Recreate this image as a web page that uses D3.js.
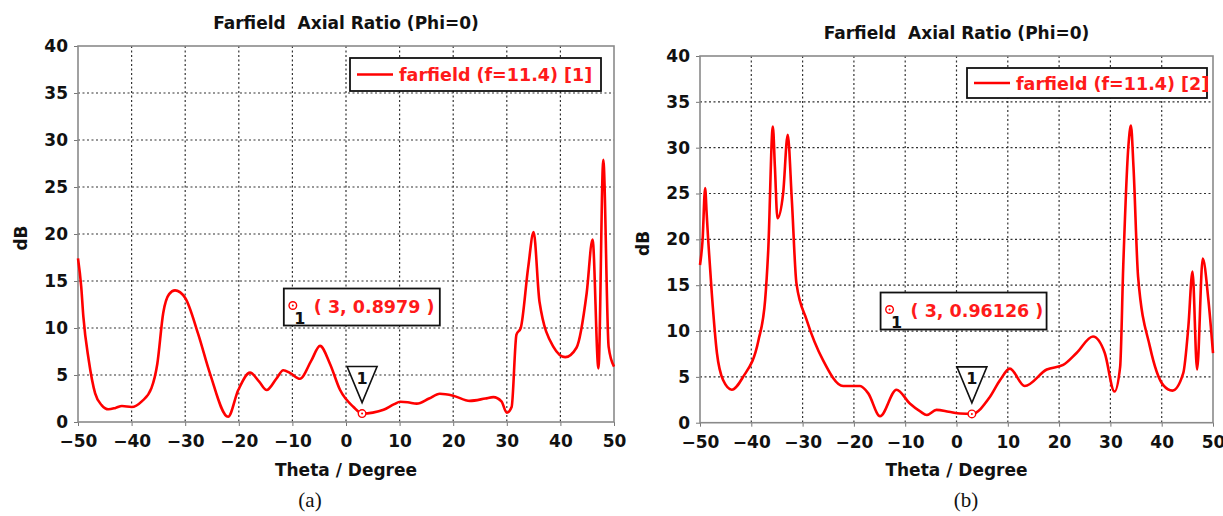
<!DOCTYPE html>
<html>
<head>
<meta charset="utf-8">
<script src="https://cdn.jsdelivr.net/npm/d3@7"></script>
<style>
  html, body { margin: 0; padding: 0; background: #fff; }
</style>
</head>
<body>
<svg id="chart" width="1223" height="516"></svg>
<script>
// sumbu bersama
const X_TICKS = [-50, -40, -30, -20, -10, 0, 10, 20, 30, 40, 50];
const Y_TICKS = [0, 5, 10, 15, 20, 25, 30, 35, 40];

// panel (a)
const thetaA = [-50, -49.4, -49, -48, -46.8, -45.6, -44.3, -43, -41.8, -40, -38.1, -36.3, -35.2, -34.1, -33,
  -31.9, -30, -27.6, -25.4, -22, -20.1, -17.9, -16.2, -14.8, -13, -11.7, -10.4, -8.6, -6.5, -4.85,
  -3, -1.1, 1.4, 3, 5, 7, 9, 10.1, 11.5, 13.2, 15.5, 17.5, 20, 23.1, 26, 27.5, 29, 30, 30.9,
  31.8, 32.6, 34, 35, 36.1, 38.7, 40.9, 43, 44.9, 46, 47.1, 48, 49, 50];
const arA = [17.4, 14.4, 11.2, 6.6, 3.05, 1.8, 1.35, 1.5, 1.7, 1.6, 2.2, 3.6, 6.2, 11.6, 13.6,
  14.0, 13.2, 9.4, 5.2, 0.56, 3.4, 5.25, 4.3, 3.4, 4.6, 5.5, 5.2, 4.6, 6.5, 8.1,
  6.2, 3.4, 1.6, 0.9, 1.0, 1.3, 1.9, 2.15, 2.1, 1.95, 2.5, 3.0, 2.8, 2.25, 2.5, 2.65, 2.2, 1.0, 1.6,
  9.3, 10.0, 16.5, 20.2, 12.8, 8.0, 6.9, 7.9, 13.7, 19.4, 5.7, 27.9, 8.0, 5.9];

// panel (b)
const thetaB = [-50, -49.5, -49, -48.7, -48.4, -47.7, -46.7, -45.5, -43.8, -41.6, -38.6, -37.3, -36.7,
  -35.8, -35.4, -34.9, -33.8, -32.9, -32.1, -31.2, -29.2, -26, -22.1, -18.8, -17.2, -14.9, -11.7,
  -9.1, -7, -5.8, -3.9, -1.5, 0.7, 3, 6.5, 8.5, 10.4, 13.3, 17.6, 20.8, 23.4, 26.6, 28.9, 30.8,
  31.9, 32.5, 33.5, 34, 34.5, 35.4, 37.7, 40.3, 42.1, 44.2, 45.2, 46, 46.9, 48, 49.1, 50];
const arB = [17.2, 19.9, 25.6, 22.8, 19.9, 14.1, 7.6, 4.65, 3.6, 5.0, 9.0, 13.4, 18.8,
  32.3, 27.9, 22.3, 25.0, 31.4, 24.3, 15.2, 11.2, 6.8, 4.0, 4.0, 3.2, 0.7, 3.6,
  2.1, 1.2, 0.84, 1.4, 1.2, 1.0, 0.96, 2.8, 4.65, 5.9, 4.0, 5.8, 6.3, 7.6, 9.4, 7.6, 3.4,
  6.1, 17.0, 30.1, 32.4, 27.9, 15.9, 8.3, 4.1, 3.5, 5.4, 10.5, 16.5, 5.8, 17.9, 13.4, 7.6];

const FONT = "'DejaVu Sans', Verdana, sans-serif";
const svg = d3.select("#chart");

drawPanel({
  left: 78, right: 614, top: 46, bottom: 422,
  titleY: 29, theta: thetaA, values: arA,
  legend: "farfield (f=11.4) [1]", legendBox: [350, 58, 251, 33],
  markerTheta: 3, markerValue: 0.8979, markerText: "( 3, 0.8979 )",
  annoTheta: -11.6, annoDb: 14.2, annoW: 156, caption: "(a)", captionX: 310
});

drawPanel({
  left: 700, right: 1213, top: 56, bottom: 422.7,
  titleY: 39, theta: thetaB, values: arB,
  legend: "farfield (f=11.4) [2]", legendBox: [967, 68, 240, 30],
  markerTheta: 3, markerValue: 0.96126, markerText: "( 3, 0.96126 )",
  annoTheta: -14.8, annoDb: 14.2, annoW: 166, caption: "(b)", captionX: 966
});

function txt(sel, size, color) {
  return sel.style("font-family", FONT).style("font-size", size + "px")
    .style("font-weight", "bold").attr("fill", color);
}

function drawPanel(o) {
  const g = svg.append("g");
  const x = d3.scaleLinear().domain([-50, 50]).range([o.left, o.right]);
  const y = d3.scaleLinear().domain([0, 40]).range([o.bottom, o.top]);
  const w = o.right - o.left, h = o.bottom - o.top;

  // grid titik-titik
  g.append("g")
    .selectAll("line")
    .data(X_TICKS.slice(1, -1))
    .join("line")
    .attr("x1", d => x(d)).attr("x2", d => x(d))
    .attr("y1", o.top).attr("y2", o.bottom)
    .attr("stroke", "#333").attr("stroke-width", 1.2)
    .attr("stroke-dasharray", "2,2.5");
  g.append("g")
    .selectAll("line")
    .data(Y_TICKS.slice(1, -1))
    .join("line")
    .attr("y1", d => y(d)).attr("y2", d => y(d))
    .attr("x1", o.left).attr("x2", o.right)
    .attr("stroke", "#333").attr("stroke-width", 1.2)
    .attr("stroke-dasharray", "2,2.5");

  // sumbu x
  const ax = g.append("g")
    .attr("transform", `translate(0,${o.bottom})`)
    .call(d3.axisBottom(x).tickValues(X_TICKS).tickSize(4).tickPadding(9));
  ax.select(".domain").remove();
  ax.selectAll("line").attr("stroke", "#777");
  txt(ax.selectAll("text"), 17, "#111");

  // sumbu y
  const ay = g.append("g")
    .attr("transform", `translate(${o.left},0)`)
    .call(d3.axisLeft(y).tickValues(Y_TICKS).tickSize(4).tickPadding(6));
  ay.select(".domain").remove();
  ay.selectAll("line").attr("stroke", "#777");
  txt(ay.selectAll("text"), 17, "#111");

  // bingkai
  g.append("rect")
    .attr("x", o.left).attr("y", o.top).attr("width", w).attr("height", h)
    .attr("fill", "none").attr("stroke", "#8a8a8a").attr("stroke-width", 1.6);

  // judul
  txt(g.append("text"), 17, "#111")
    .attr("x", (o.left + o.right) / 2).attr("y", o.titleY)
    .attr("text-anchor", "middle").style("white-space", "pre")
    .text("Farfield  Axial Ratio (Phi=0)");

  txt(g.append("text"), 17, "#111")
    .attr("x", (o.left + o.right) / 2).attr("y", 476)
    .attr("text-anchor", "middle")
    .text("Theta / Degree");

  txt(g.append("text"), 17, "#111")
    .attr("transform", `translate(${o.left - 51},${(o.top + o.bottom) / 2 + 4}) rotate(-90)`)
    .attr("text-anchor", "middle")
    .text("dB");

  // kurva
  const pts = o.theta.map((t, i) => [t, o.values[i]]);
  g.append("path")
    .datum(pts)
    .attr("fill", "none").attr("stroke", "#ff0000").attr("stroke-width", 2.6)
    .attr("stroke-linejoin", "round")
    .attr("d", d3.line().x(d => x(d[0])).y(d => y(d[1])).curve(d3.curveMonotoneX));

  // legenda
  const [lx, ly, lw, lh] = o.legendBox;
  g.append("rect")
    .attr("x", lx).attr("y", ly).attr("width", lw).attr("height", lh)
    .attr("fill", "#fff").attr("stroke", "#111").attr("stroke-width", 1.8);
  g.append("line")
    .attr("x1", lx + 7).attr("x2", lx + 43).attr("y1", ly + lh / 2).attr("y2", ly + lh / 2)
    .attr("stroke", "#ff0000").attr("stroke-width", 2.6);
  txt(g.append("text"), 17.5, "#ff1a1a")
    .attr("x", lx + 49).attr("y", ly + lh / 2 + 6.5)
    .text(o.legend);

  // marker segitiga + titik
  const mx = x(o.markerTheta), my = y(o.markerValue);
  g.append("path")
    .attr("d", `M${mx - 15},${my - 47}L${mx + 15},${my - 47}L${mx},${my - 11}Z`)
    .attr("fill", "#fff").attr("stroke", "#111").attr("stroke-width", 1.6);
  txt(g.append("text"), 16, "#111")
    .attr("x", mx).attr("y", my - 30)
    .attr("text-anchor", "middle").text("1");
  markerDot(g, mx, my);

  // kotak anotasi
  const bx = x(o.annoTheta), by = y(o.annoDb);
  g.append("rect")
    .attr("x", bx).attr("y", by).attr("width", o.annoW).attr("height", 37)
    .attr("fill", "#fff").attr("stroke", "#111").attr("stroke-width", 1.8);
  markerDot(g, bx + 9, by + 17);
  txt(g.append("text"), 16, "#111")
    .attr("x", bx + 16).attr("y", by + 35)
    .attr("text-anchor", "middle").text("1");
  txt(g.append("text"), 17.5, "#ff1a1a")
    .attr("x", bx + 30).attr("y", by + 24.5)
    .style("white-space", "pre")
    .text(o.markerText);

  // keterangan (a)/(b)
  g.append("text")
    .attr("x", o.captionX).attr("y", 507)
    .attr("text-anchor", "middle")
    .style("font-family", "'Liberation Serif', 'Times New Roman', serif")
    .style("font-size", "21px").attr("fill", "#111")
    .text(o.caption);
}

function markerDot(g, cx, cy) {
  g.append("circle").attr("cx", cx).attr("cy", cy).attr("r", 3.8)
    .attr("fill", "#fff").attr("stroke", "#ff0000").attr("stroke-width", 1.4);
  g.append("circle").attr("cx", cx).attr("cy", cy).attr("r", 1)
    .attr("fill", "#ff0000");
}
</script>
</body>
</html>
